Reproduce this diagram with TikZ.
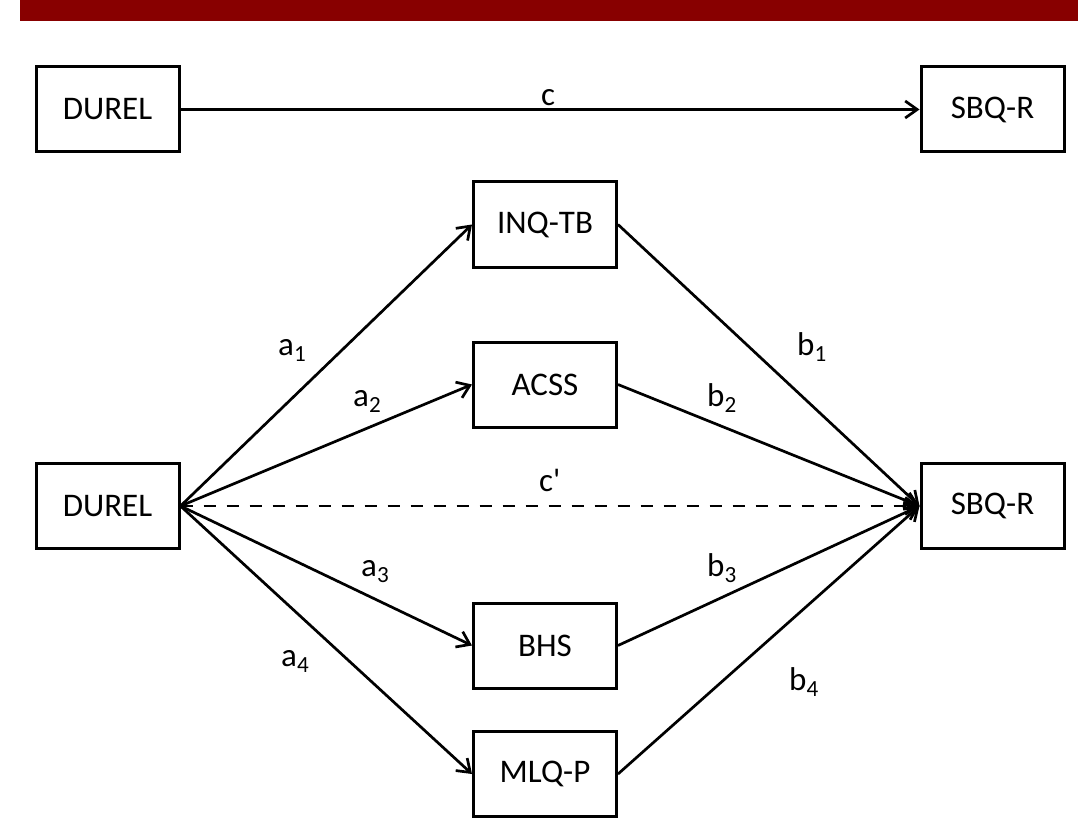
\documentclass[tikz,border=0pt]{standalone}
\usepackage{fontspec}
\setmainfont{Carlito}
\usetikzlibrary{arrows.meta}
\definecolor{barred}{HTML}{880000}
\begin{document}
\begin{tikzpicture}[x=1pt,y=-1pt,
  box/.style={draw, line width=3pt, minimum width=143pt, minimum height=85pt, inner sep=0pt, font=\fontsize{33}{40}\selectfont},
  conn/.style={line width=2.7pt, -{Straight Barb[length=12pt,width=17pt,line width=2.7pt]}},
  lbl/.style={font=\fontsize{33}{40}\selectfont, anchor=base west, inner sep=0pt}]
\useasboundingbox (0,0) rectangle (1078,829);
\fill[barred] (20,0) rectangle (1078,21);
% top row
\node[box] (durelA) at (107.5,109.5) {DUREL};
\node[box] (sbqA) at (992.5,109.5) {SBQ-R};
\draw[conn] (durelA) -- (sbqA);
\node[lbl] (lc) at (541,106) {c};
% main model
\node[box] (durelB) at (107.5,506) {DUREL};
\node[box] (sbqB) at (992.5,506) {SBQ-R};
\node[box] (inq) at (545,224.5) {INQ-TB};
\node[box] (acss) at (545,384.5) {ACSS};
\node[box] (bhs) at (545,645.5) {BHS};
\node[box] (mlq) at (545,774) {MLQ-P};
\draw[conn] (durelB.east) -- (inq.west);
\draw[conn] (durelB.east) -- (acss.west);
\draw[conn] (durelB.east) -- (bhs.west);
\draw[conn] (durelB.east) -- (mlq.west);
\draw[conn] (inq.east) -- (sbqB.west);
\draw[conn] (acss.east) -- (sbqB.west);
\draw[conn] (bhs.east) -- (sbqB.west);
\draw[conn] (mlq.east) -- (sbqB.west);
\draw[conn, dash pattern=on 12pt off 11pt] (durelB.east) -- (sbqB.west);
\node[lbl] (lcp) at (539,491) {c\textquotesingle};
\node[lbl] (la1) at (278,355) {a\textsubscript{1}};
\node[lbl] (la2) at (353,406) {a\textsubscript{2}};
\node[lbl] (la3) at (361,576) {a\textsubscript{3}};
\node[lbl] (la4) at (281,666) {a\textsubscript{4}};
\node[lbl] (lb1) at (797,355) {b\textsubscript{1}};
\node[lbl] (lb2) at (707,406) {b\textsubscript{2}};
\node[lbl] (lb3) at (707,576) {b\textsubscript{3}};
\node[lbl] (lb4) at (789,690) {b\textsubscript{4}};
\end{tikzpicture}
\end{document}
